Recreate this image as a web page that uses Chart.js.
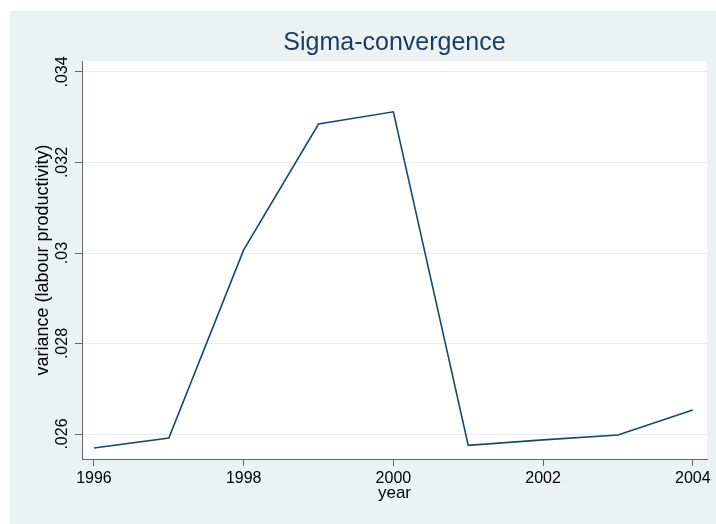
<!DOCTYPE html>
<html>
<head>
<meta charset="utf-8">
<script src="https://cdn.jsdelivr.net/npm/chart.js@4.4.1/dist/chart.umd.min.js"></script>
<style>
  html, body { margin: 0; padding: 0; background: #fff; }
  #wrap { width: 716px; height: 524px; }
</style>
</head>
<body>
<div id="wrap"><canvas id="sigma-chart" width="716" height="524"></canvas></div>
<script>
const years = [1996, 1997, 1998, 1999, 2000, 2001, 2002, 2003, 2004];
const variance = [0.02569, 0.02591, 0.03007, 0.03285, 0.03312, 0.02575, 0.02587, 0.02598, 0.02653];
const xTicks = [1996, 1998, 2000, 2002, 2004];
const yTicks = [0.026, 0.028, 0.03, 0.032, 0.034];
const yTickLabels = ['.026', '.028', '.03', '.032', '.034'];

const font = 'Liberation Sans, Arial, sans-serif';

// stata style backgrounds + rotated y labels
const stataLook = {
  id: 'stataLook',
  beforeDraw(chart) {
    const { ctx, chartArea } = chart;
    ctx.save();
    ctx.fillStyle = '#ffffff';
    ctx.fillRect(0, 0, chart.width, chart.height);
    ctx.fillStyle = '#eaf2f3';
    ctx.fillRect(10, 11, chart.width - 10, chart.height - 11);
    ctx.fillStyle = '#ffffff';
    ctx.fillRect(chartArea.left, chartArea.top, chartArea.right - chartArea.left, chartArea.bottom - chartArea.top);
    ctx.restore();
  },
  afterDraw(chart) {
    const { ctx } = chart;
    const y = chart.scales.y;
    ctx.save();
    ctx.fillStyle = '#000';
    ctx.font = '16px ' + font;
    ctx.textAlign = 'center';
    ctx.textBaseline = 'middle';
    yTicks.forEach((v, i) => {
      ctx.save();
      ctx.translate(63, y.getPixelForValue(v));
      ctx.rotate(-Math.PI / 2);
      ctx.fillText(yTickLabels[i], 0, 0);
      ctx.restore();
    });
    ctx.restore();
  }
};

new Chart(document.getElementById('sigma-chart'), {
  type: 'line',
  data: {
    datasets: [
      {
        data: years.map((yr, i) => ({ x: yr, y: variance[i] })),
        borderColor: '#1a476f',
        borderWidth: 1.6,
        pointRadius: 0,
        tension: 0,
        fill: false,
      },
    ],
  },
  options: {
    responsive: false,
    animation: false,
    layout: {
      padding: { left: 0, right: 9, top: 0, bottom: 0 },
    },
    scales: {
      x: {
        type: 'linear',
        min: 1995.84,
        max: 2004.19,
        afterBuildTicks: (scale) => {
          scale.ticks = xTicks.map((v) => ({ value: v }));
        },
        afterFit: (scale) => {
          scale.height = 65;
        },
        border: { color: '#666', width: 1 },
        grid: {
          drawOnChartArea: false,
          drawTicks: true,
          tickLength: 7,
          color: '#666',
        },
        ticks: {
          padding: 3,
          color: '#000',
          font: { size: 16, family: font },
          maxRotation: 0,
          callback: (v) => String(v),
        },
        title: {
          display: true,
          text: 'year',
          color: '#000',
          font: { size: 17, family: font },
          padding: { top: 0, bottom: 20 },
        },
      },
      y: {
        min: 0.025448,
        max: 0.034243,
        afterBuildTicks: (scale) => {
          scale.ticks = yTicks.map((v) => ({ value: v }));
        },
        afterFit: (scale) => {
          scale.width = 82;
        },
        border: { color: '#666', width: 1 },
        grid: {
          drawTicks: true,
          tickLength: 7,
          color: '#e4edf0',
          tickColor: '#666',
        },
        ticks: {
          display: false,
        },
        title: {
          display: true,
          text: 'variance (labour productivity)',
          color: '#000',
          font: { size: 18, family: font },
          padding: { top: 32, bottom: 0 },
        },
      },
    },
    plugins: {
      legend: { display: false },
      tooltip: { enabled: false },
      title: {
        display: true,
        fullSize: false,
        text: 'Sigma-convergence',
        color: '#1e3b5e',
        font: { size: 25, family: font, weight: 'normal' },
        padding: { top: 28, bottom: 3 },
      },
    },
  },
  plugins: [stataLook],
});
</script>
</body>
</html>
